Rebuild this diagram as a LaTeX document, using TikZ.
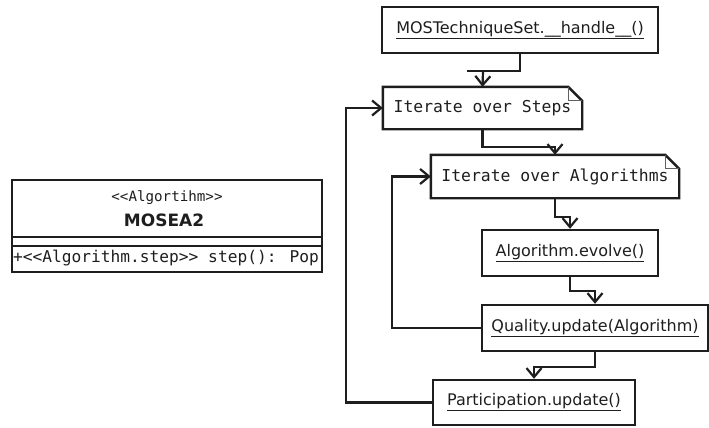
\documentclass[tikz,border=0pt]{standalone}
\usepackage{fontspec}
\setmainfont{DejaVu Sans}
\newfontfamily\monofont{DejaVu Sans Mono}
\usetikzlibrary{arrows.meta,calc}
\definecolor{ink}{HTML}{1E1E1E}
\tikzset{
  box/.style={draw=ink, line width=2.4pt, rectangle, inner sep=0pt, font=\fontsize{16}{19}\selectfont, text=ink},
  notebox/.style={inner sep=0pt, font=\monofont\fontsize{16.4}{19}\selectfont, text=ink},
  conn/.style={draw=ink, line width=2.2pt},
  arr/.style={conn, -{Straight Barb[length=9pt,width=15pt,line width=2.2pt]}},
  fold/.style={draw=ink!70, line width=1.2pt}
}
\newcommand{\drawnote}[1]{%
  \draw[draw=ink, line width=2.4pt] (#1.north west) -- ([xshift=-14pt]#1.north east) -- ([yshift=-14pt]#1.north east) -- (#1.south east) -- (#1.south west) -- cycle;
  \draw[fold] ([xshift=-14pt]#1.north east) -- ([xshift=-14pt,yshift=-14pt]#1.north east) -- ([yshift=-14pt]#1.north east);
}
\begin{document}
\begin{tikzpicture}[x=1pt,y=-1pt]
\useasboundingbox (0,0) rectangle (709,428);
% class
\draw[draw=ink, line width=2.4pt] (12,180) rectangle (322,272);
\draw[draw=ink, line width=2.4pt] (12,237) -- (322,237);
\draw[draw=ink, line width=2.4pt] (12,246) -- (322,246);
\node[text=ink, font=\monofont\fontsize{14.2}{16}\selectfont] (stereo) at (167,198) {<<Algortihm>>};
\node[text=ink, font=\bfseries\fontsize{17}{20}\selectfont] (cname) at (164,220) {MOSEA2};
\node[text=ink, anchor=west, inner sep=0pt, font=\monofont\fontsize{16.2}{18}\selectfont] (op) at (13,258) {+<<Algorithm.step>> step(): Pop};
% activity nodes
\node[box, minimum width=276pt, minimum height=46pt] (mos) at (520,30) {\underline{MOSTechniqueSet.\_\_handle\_\_()}};
\node[notebox, minimum width=199pt, minimum height=42pt] (steps) at (482.5,108) {Iterate over Steps};
\drawnote{steps}
\node[notebox, minimum width=248pt, minimum height=43pt] (algos) at (555,176.5) {Iterate over Algorithms};
\drawnote{algos}
\node[box, minimum width=176pt, minimum height=46pt] (evolve) at (570,253) {\underline{Algorithm.evolve()}};
\node[box, minimum width=226pt, minimum height=46pt] (quality) at (595,328) {\underline{Quality.update(Algorithm)}};
\node[box, minimum width=202pt, minimum height=45pt] (part) at (534,402.5) {\underline{Participation.update()}};
% connectors
\draw[conn] (mos.south) -- ++(0,17) -- ++(-53,0);
\draw[arr] (mos.south) ++(-37,17) coordinate (c1) -- (steps.north);
\draw[arr] (steps.south) -- ++(0,18) -| (algos.north);
\draw[arr] (algos.south) -- ++(0,19) -| (evolve.north);
\draw[arr] (evolve.south) -- ++(0,14) -| (quality.north);
\draw[arr] (quality.south) -- ++(0,15) -| (part.north);
\draw[arr] (quality.west) -- ++(-89,0) |- (algos.west);
\draw[arr] (part.west) -- ++(-86,0) |- (steps.west);
\end{tikzpicture}
\end{document}
